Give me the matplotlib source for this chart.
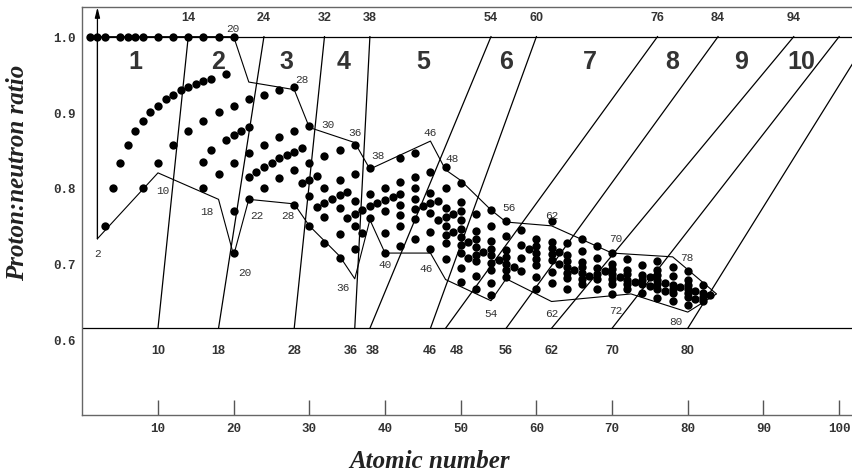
import matplotlib
matplotlib.use("Agg")
import matplotlib.pyplot as plt

# stable nuclides: atomic number and proton:neutron ratio
iso_z = [1, 2, 3, 3, 4, 5, 5, 6, 6, 7, 7, 8, 8, 8, 9,
         10, 10, 10, 11, 12, 12, 12, 13, 14, 14, 14, 15,
         16, 16, 16, 16, 16, 17, 17, 18, 18, 18, 19, 19,
         20, 20, 20, 20, 20, 20, 21, 22, 22, 22, 22, 22, 23,
         24, 24, 24, 24, 25, 26, 26, 26, 26, 27,
         28, 28, 28, 28, 28, 29, 29, 30, 30, 30, 30, 30, 31, 31,
         32, 32, 32, 32, 32, 33, 34, 34, 34, 34, 34, 34, 35, 35,
         36, 36, 36, 36, 36, 36, 37, 37, 38, 38, 38, 38, 39,
         40, 40, 40, 40, 40, 41, 42, 42, 42, 42, 42, 42, 42,
         44, 44, 44, 44, 44, 44, 44, 45, 46, 46, 46, 46, 46, 46, 47, 47,
         48, 48, 48, 48, 48, 48, 48, 48, 49, 49,
         50, 50, 50, 50, 50, 50, 50, 50, 50, 50, 51, 51,
         52, 52, 52, 52, 52, 52, 52, 52, 53,
         54, 54, 54, 54, 54, 54, 54, 54, 54, 55,
         56, 56, 56, 56, 56, 56, 56, 57, 58, 58, 58, 58, 59,
         60, 60, 60, 60, 60, 60, 60, 62, 62, 62, 62, 62, 62, 62, 63, 63,
         64, 64, 64, 64, 64, 64, 64, 65, 66, 66, 66, 66, 66, 66, 66, 67,
         68, 68, 68, 68, 68, 68, 69, 70, 70, 70, 70, 70, 70, 70, 71,
         72, 72, 72, 72, 72, 72, 73, 74, 74, 74, 74, 74, 75, 75,
         76, 76, 76, 76, 76, 76, 76, 77, 77, 78, 78, 78, 78, 78, 78, 79,
         80, 80, 80, 80, 80, 80, 80, 81, 81, 82, 82, 82, 82, 83]
iso_ratio = [1.0, 1.0, 1.0, 0.75, 0.8, 1.0, 0.833, 1.0, 0.857, 1.0, 0.875, 1.0, 0.889, 0.8, 0.9,
             1.0, 0.909, 0.833, 0.917, 1.0, 0.923, 0.857, 0.929, 1.0, 0.933, 0.875, 0.938,
             1.0, 0.941, 0.889, 0.835, 0.8, 0.944, 0.85, 1.0, 0.9, 0.818, 0.95, 0.864,
             1.0, 0.909, 0.870, 0.833, 0.769, 0.714, 0.875, 0.917, 0.88, 0.846, 0.815, 0.786, 0.821,
             0.923, 0.857, 0.828, 0.8, 0.833, 0.929, 0.867, 0.839, 0.813, 0.844,
             0.933, 0.875, 0.848, 0.824, 0.778, 0.853, 0.806, 0.882, 0.833, 0.811, 0.789, 0.75, 0.816, 0.775,
             0.842, 0.8, 0.780, 0.762, 0.727, 0.786, 0.85, 0.810, 0.791, 0.773, 0.739, 0.708, 0.795, 0.761,
             0.857, 0.818, 0.783, 0.766, 0.75, 0.72, 0.771, 0.74, 0.826, 0.792, 0.776, 0.76, 0.78,
             0.8, 0.784, 0.769, 0.741, 0.714, 0.788, 0.84, 0.808, 0.792, 0.778, 0.764, 0.75, 0.724,
             0.846, 0.815, 0.8, 0.786, 0.772, 0.759, 0.733, 0.776, 0.821, 0.793, 0.780, 0.767, 0.742, 0.719, 0.783, 0.758,
             0.828, 0.8, 0.774, 0.762, 0.75, 0.738, 0.727, 0.706, 0.766, 0.742,
             0.806, 0.781, 0.769, 0.758, 0.746, 0.735, 0.725, 0.714, 0.694, 0.676, 0.729, 0.708,
             0.765, 0.743, 0.732, 0.722, 0.712, 0.703, 0.684, 0.667, 0.716,
             0.771, 0.75, 0.730, 0.72, 0.711, 0.701, 0.692, 0.675, 0.659, 0.705,
             0.757, 0.737, 0.718, 0.709, 0.7, 0.691, 0.683, 0.695, 0.744, 0.725, 0.707, 0.690, 0.720,
             0.732, 0.723, 0.714, 0.706, 0.698, 0.682, 0.667, 0.756, 0.729, 0.721, 0.713, 0.705, 0.689, 0.674, 0.716, 0.7,
             0.727, 0.711, 0.703, 0.696, 0.688, 0.681, 0.667, 0.691, 0.733, 0.717, 0.702, 0.695, 0.688, 0.680, 0.673, 0.684,
             0.723, 0.708, 0.694, 0.687, 0.68, 0.667, 0.69, 0.714, 0.7, 0.693, 0.686, 0.680, 0.673, 0.660, 0.683,
             0.706, 0.692, 0.686, 0.679, 0.673, 0.667, 0.676, 0.698, 0.685, 0.679, 0.673, 0.661, 0.682, 0.670,
             0.704, 0.691, 0.685, 0.679, 0.673, 0.667, 0.655, 0.675, 0.664, 0.696, 0.684, 0.672, 0.667, 0.661, 0.65, 0.669,
             0.690, 0.678, 0.672, 0.667, 0.661, 0.656, 0.645, 0.664, 0.653, 0.672, 0.661, 0.656, 0.651, 0.659]

# envelope round the stable band
edge_z = [2, 2, 20, 22, 28, 30, 36, 38, 46, 48, 50, 54, 56, 62, 70, 78, 83.8,
          80, 72.5, 62, 56, 54, 48, 46, 40, 38, 36, 34, 32, 30, 28, 22, 20, 18, 10, 2]
edge_ratio = [0.733, 1.0, 1.0, 0.94, 0.93, 0.88, 0.86, 0.825, 0.862, 0.824, 0.81, 0.771, 0.755, 0.75,
              0.714, 0.709, 0.66, 0.636, 0.66, 0.65, 0.68, 0.651, 0.679, 0.714, 0.714, 0.758,
              0.68, 0.71, 0.73, 0.75, 0.779, 0.785, 0.711, 0.785, 0.82, 0.733]

# labels along the envelope
edge_labels = ["2", "10", "18", "20", "22", "28", "20", "28", "30", "36", "38", "46", "48",
               "56", "62", "70", "78", "36", "40", "46", "54", "62", "72", "80"]
edge_label_z = [2.0, 10.6, 16.4, 21.5, 23.0, 27.1, 19.95, 29.0, 32.5, 36.0, 39.0, 45.9, 48.9,
                56.4, 62.0, 70.5, 79.9, 34.5, 40.0, 45.4, 54.0, 62.0, 70.5, 78.4]
edge_label_r = [0.714, 0.798, 0.770, 0.689, 0.764, 0.764, 1.012, 0.944, 0.884, 0.874, 0.844, 0.874, 0.839,
                0.775, 0.764, 0.734, 0.709, 0.669, 0.700, 0.694, 0.635, 0.635, 0.639, 0.624]

# sloping shell lines: Z where each meets the lower and upper rule
shell_low = [10, 18, 28, 36, 38, 46, 48, 56, 62, 70, 80]
shell_high = [14, 24, 32, 38, 54, 60, 76, 84, 94, 100, 104]
low_label_z = [10, 18, 28, 35.5, 38.4, 45.9, 49.5, 56, 62, 70, 80]

regions = ["1", "2", "3", "4", "5", "6", "7", "8", "9", "10"]
region_z = [7, 18, 27, 34.5, 45, 56, 67, 78, 87, 95]

low_rule = 0.6146
top_rule = 1.0

mono = "Liberation Mono"
sans = "Liberation Sans"
serif = "Liberation Serif"
grey = "#333333"

fig = plt.figure(figsize=(8.53, 4.77), dpi=100)
ax = fig.add_axes([82.3 / 853, 61 / 477, (852 - 82.3) / 853, (416 - 8.3) / 477])
ax.set_xlim(0, 101.7)
ax.set_ylim(0.5, 1.0388)

for side in ["top", "left", "bottom"]:
    ax.spines[side].set_color("#666666")
    ax.spines[side].set_linewidth(1.0)
ax.spines["right"].set_visible(False)

ax.set_xticks([10, 20, 30, 40, 50, 60, 70, 80, 90, 100])
ax.set_yticks([0.6, 0.7, 0.8, 0.9, 1.0])
ax.set_yticklabels(["0.6", "0.7", "0.8", "0.9", "1.0"])
ax.tick_params(axis="x", direction="in", length=11, width=1, color="#555555", pad=5)
ax.tick_params(axis="y", length=0, pad=5)
for lab in ax.get_xticklabels() + ax.get_yticklabels():
    lab.set_fontfamily(mono)
    lab.set_fontweight("bold")
    lab.set_fontsize(9)
    lab.set_color(grey)

# the two horizontal rules
ax.plot([1, 101.7], [top_rule, top_rule], color="k", lw=0.9)
ax.axhline(low_rule, color="k", lw=0.9)

# sloping lines
for lo, hi in zip(shell_low, shell_high):
    ax.plot([lo, hi], [low_rule, top_rule], color="k", lw=0.9)

# envelope
ax.plot(edge_z, edge_ratio, color="k", lw=0.8)

# arrow up the left side
ax.annotate("", xy=(2, 1.0388), xytext=(2, 0.733),
            arrowprops=dict(arrowstyle="-|>,head_length=0.6,head_width=0.15", color="k", lw=0.9,
                            shrinkA=0, shrinkB=0), annotation_clip=False)

ax.scatter(iso_z, iso_ratio, s=36, color="k", zorder=3, linewidths=0)

for hi in shell_high[:9]:
    ax.text(hi, 1.0256, str(hi), ha="center", va="center", fontsize=9,
            fontfamily=sans, fontweight="bold", color=grey)
for lo, lz in zip(shell_low, low_label_z):
    ax.text(lz, 0.5855, str(lo), ha="center", va="center", fontsize=9,
            fontfamily=sans, fontweight="bold", color=grey)

for txt, z in zip(regions, region_z):
    ax.text(z, 0.968, txt, ha="center", va="center", fontsize=18,
            fontfamily=sans, fontweight="bold", color=grey)

for txt, z, r in zip(edge_labels, edge_label_z, edge_label_r):
    ax.text(z, r, txt, ha="center", va="center", fontsize=8, fontfamily=mono, color=grey)

fig.text(430 / 853, 1 - 462 / 477, "Atomic number", ha="center", va="center",
         fontsize=18, fontfamily=serif, fontweight="bold", style="italic", color="#222222")
fig.text(17.5 / 853, 1 - 172.5 / 477, "Proton:neutron ratio", ha="center", va="center",
         rotation=90, fontsize=18, fontfamily=serif, fontweight="bold", style="italic", color="#222222")

fig.savefig("out.png", dpi=100)
